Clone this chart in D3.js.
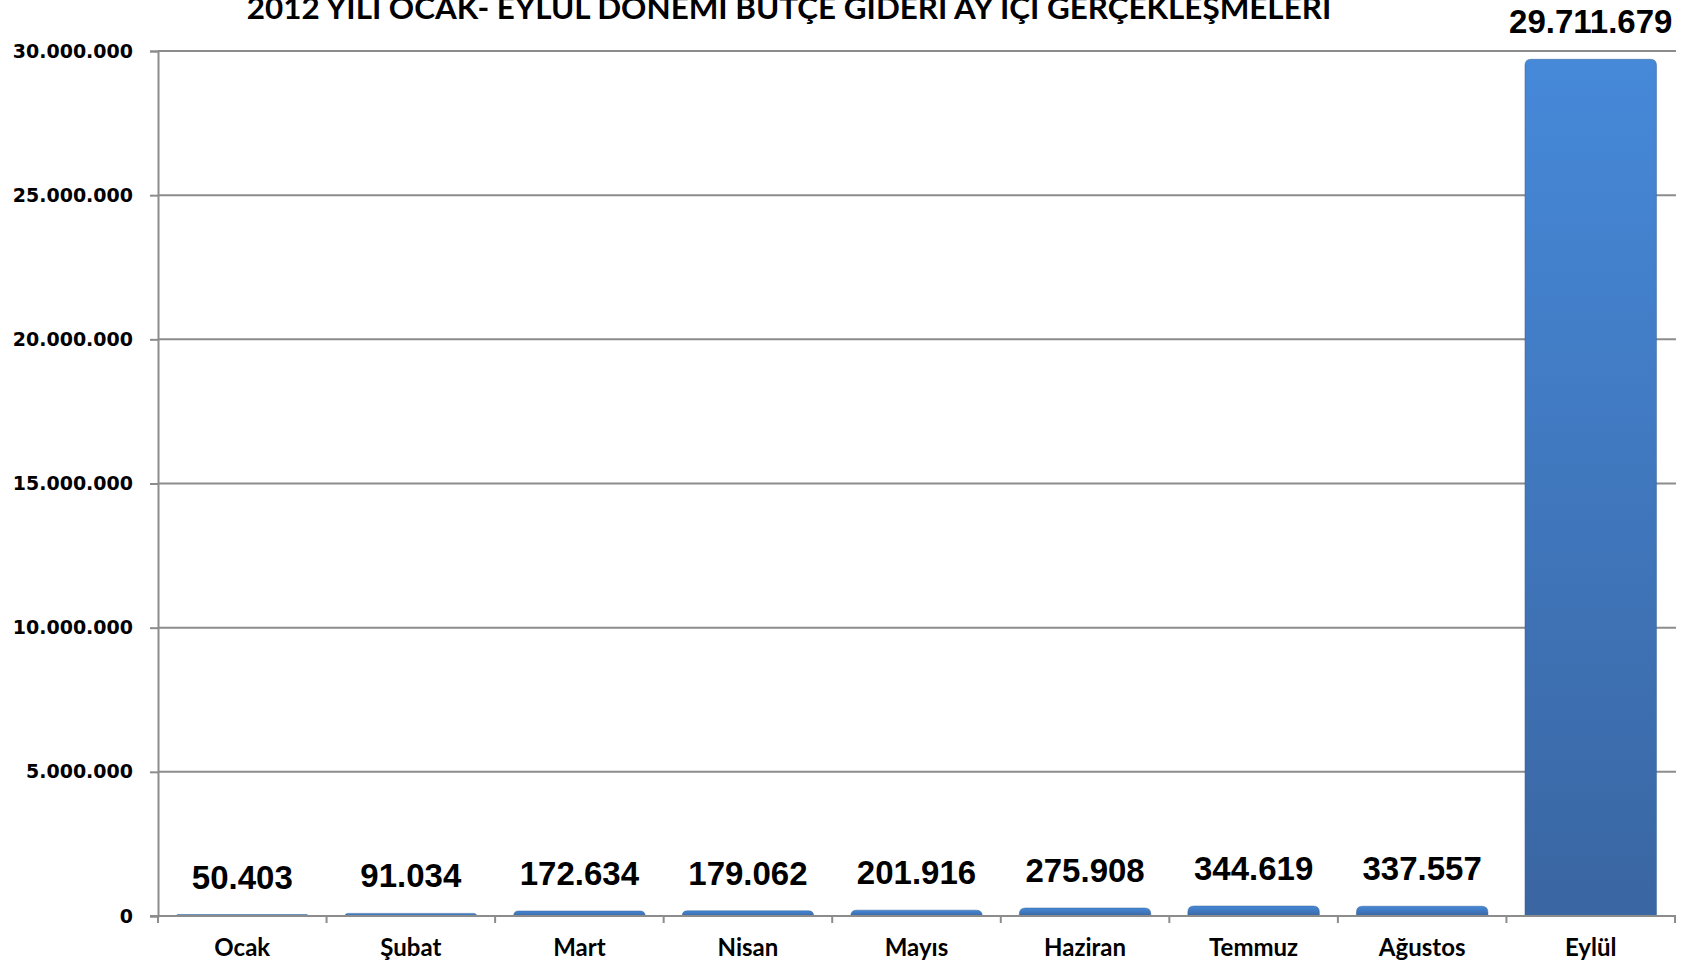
<!doctype html>
<html>
  <head>
    <meta charset="utf-8">
    <script src="https://cdn.jsdelivr.net/npm/d3@7"></script>
    <style>
    body { margin: 0; background: #fff; }
    .chart { font-family: 'Liberation Sans', Arial, sans-serif; }
    #title { font-family: Lato, sans-serif; font-weight: 700; font-size: 31.4px; }
    #y-axis .tick text { font-family: 'DejaVu Sans', sans-serif; font-weight: 700; font-size: 19px; fill: #000; }
    #x-axis .tick text { font-family: Lato, sans-serif; font-weight: 700; font-size: 24px; fill: #000; }
    .value-label { font-weight: 700; font-size: 33px; }
    </style>
  </head>
  <body>
    <svg class="chart"></svg>
  <script>

    const months = ["Ocak", "Şubat", "Mart", "Nisan", "Mayıs", "Haziran", "Temmuz", "Ağustos", "Eylül"]
    const values = [50403, 91034, 172634, 179062, 201916, 275908, 344619, 337557, 29711679]
    const yTicks = [0, 5000000, 10000000, 15000000, 20000000, 25000000, 30000000]
    const titleText = "2012 YILI OCAK- EYLÜL DÖNEMİ BÜTÇE GİDERİ AY İÇİ GERÇEKLEŞMELERİ"

    const width = 1700, height = 966
    const margin = { left: 158, top: 51, right: 25, bottom: 50 }

    const trLocale = d3.formatLocale({ decimal: ",", thousands: ".", grouping: [3], currency: ["", ""] })
    const fmt = trLocale.format(",d")

    const xScale = d3.scaleBand()
                     .domain(months)
                     .range([margin.left, width - margin.right])
                     .paddingInner(0.22)
                     .paddingOuter(0.11)

    const yScale = d3.scaleLinear()
                     .domain([0, 30000000])
                     .range([height - margin.bottom, margin.top])

    const gridColor = "#8c8c8c"

    let svg = d3.select(".chart")
                .attr("width", width)
                .attr("height", height)

    let defs = svg.append("defs")
    let grad = defs.append("linearGradient")
                   .attr("id", "barGrad")
                   .attr("x1", 0).attr("y1", 0).attr("x2", 0).attr("y2", 1)
    grad.append("stop").attr("offset", "0%").attr("stop-color", "#4689d9")
    grad.append("stop").attr("offset", "100%").attr("stop-color", "#3a66a2")

    // title, partly cut off by the top edge like in the source
    svg.append("text")
       .attr("id", "title")
       .attr("x", 789)
       .attr("y", 19)
       .attr("text-anchor", "middle")
       .text(titleText)

    // grid lines
    svg.append("g")
       .selectAll("line")
       .data(yTicks.filter(d => d > 0))
       .enter().append("line")
         .attr("x1", margin.left)
         .attr("x2", width - margin.right + 1)
         .attr("y1", d => yScale(d))
         .attr("y2", d => yScale(d))
         .attr("stroke", gridColor)
         .attr("stroke-width", 2)

    const yAxis = d3.axisLeft(yScale)
                    .tickValues(yTicks)
                    .tickFormat(d => fmt(d))
                    .tickSize(8)
                    .tickPadding(17)

    let yg = svg.append("g")
       .attr("id", "y-axis")
       .attr("transform", "translate(" + margin.left + ",0)")
       .call(yAxis)
    yg.select(".domain").attr("stroke", gridColor).attr("stroke-width", 2)
    yg.selectAll(".tick line").attr("stroke", gridColor).attr("stroke-width", 2)

    // bars with rounded top corners
    function barPath(d) {
      const x0 = xScale(d.m), w = xScale.bandwidth()
      const y0 = yScale(d.v), y1 = yScale(0)
      const r = Math.min(6, (y1 - y0), w / 2)
      return "M" + x0 + "," + y1 +
             "V" + (y0 + r) +
             "Q" + x0 + "," + y0 + " " + (x0 + r) + "," + y0 +
             "H" + (x0 + w - r) +
             "Q" + (x0 + w) + "," + y0 + " " + (x0 + w) + "," + (y0 + r) +
             "V" + y1 + "Z"
    }

    const rows = months.map((m, i) => ({ m: m, v: values[i] }))

    svg.append("g")
       .selectAll("path")
       .data(rows)
       .enter().append("path")
         .attr("d", barPath)
         .attr("fill", "url(#barGrad)")
         .attr("stroke", "#345f97")
         .attr("stroke-opacity", 0.5)
         .attr("stroke-width", 1)

    // x axis
    const xAxis = d3.axisBottom(xScale)
                    .tickSize(0)
                    .tickPadding(23)

    let xg = svg.append("g")
       .attr("id", "x-axis")
       .attr("transform", "translate(0," + yScale(0) + ")")
       .call(xAxis)
    xg.select(".domain").remove()

    const half = xScale.step() * xScale.paddingInner() / 2
    const edges = months.map(m => xScale(m) - half).concat([xScale(months[months.length - 1]) + xScale.bandwidth() + half])

    xg.append("line")
      .attr("x1", margin.left - 8)
      .attr("x2", edges[edges.length - 1] + 1)
      .attr("stroke", gridColor)
      .attr("stroke-width", 2)

    xg.selectAll(".edge")
      .data(edges)
      .enter().append("line")
        .attr("class", "edge")
        .attr("x1", d => d).attr("x2", d => d)
        .attr("y1", 0).attr("y2", 7)
        .attr("stroke", gridColor)
        .attr("stroke-width", 2)

    // value labels
    svg.append("g")
       .selectAll("text")
       .data(rows)
       .enter().append("text")
         .attr("class", "value-label")
         .attr("x", d => xScale(d.m) + xScale.bandwidth() / 2)
         .attr("y", d => yScale(d.v) - 26)
         .attr("text-anchor", "middle")
         .text(d => fmt(d.v))

  </script>
  </body>
</html>
